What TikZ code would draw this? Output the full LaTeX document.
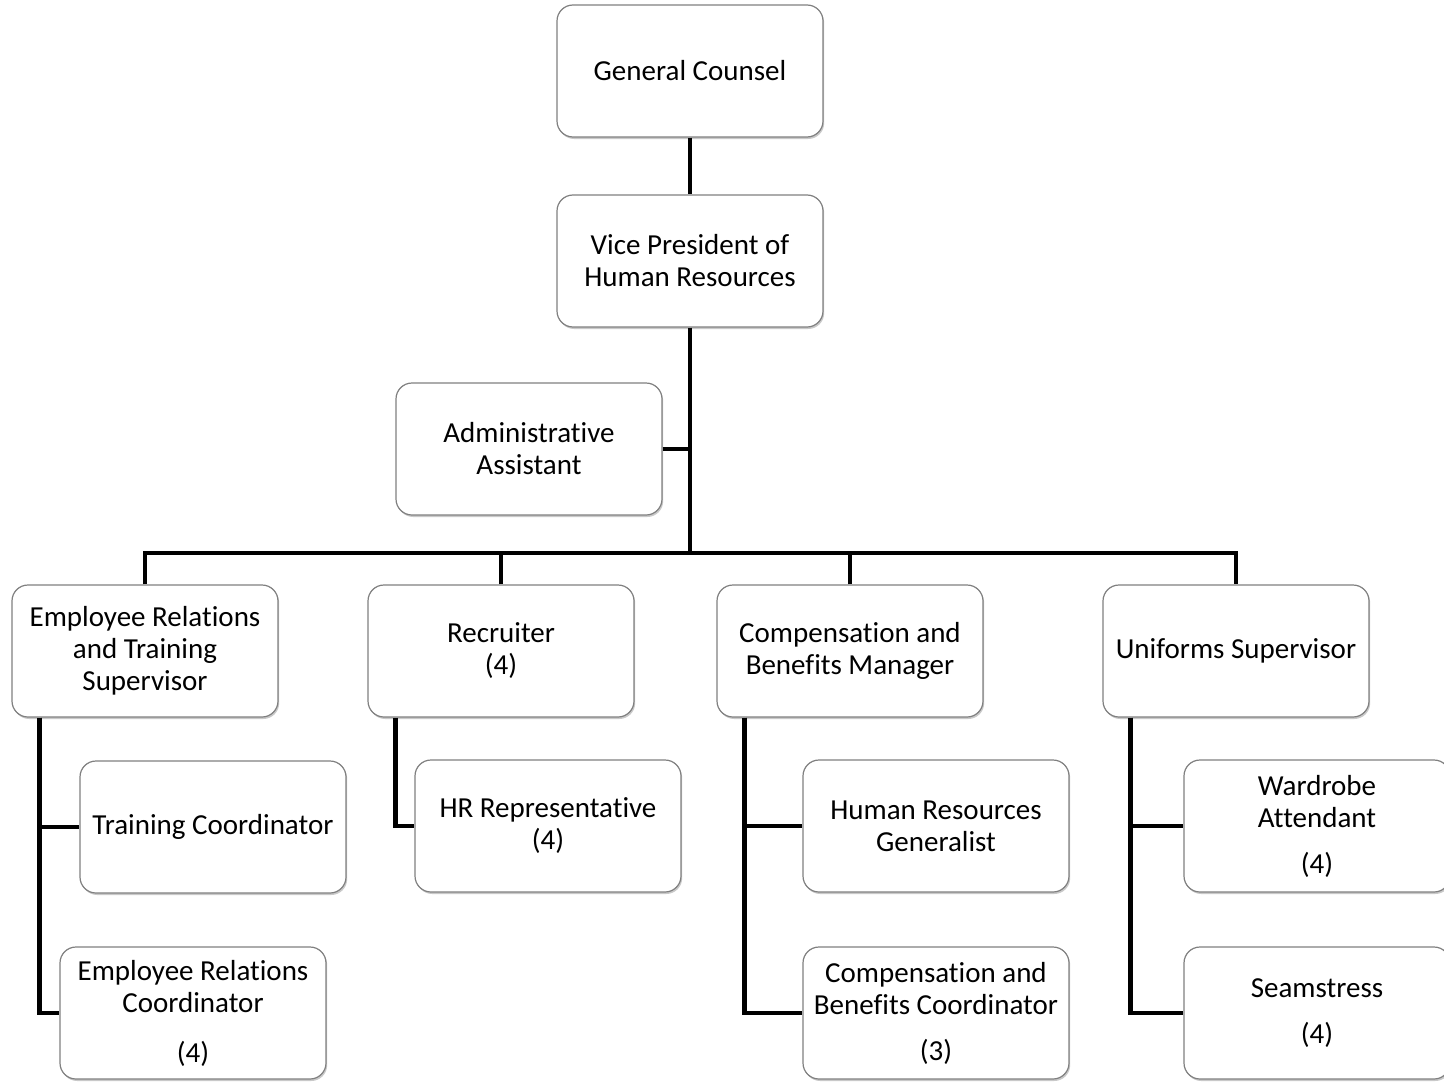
\documentclass[tikz,border=0pt]{standalone}
\usepackage{fontspec}
\setmainfont{Carlito}[Ligatures=NoCommon]
\usetikzlibrary{positioning,shadows}

\tikzset{
  post/.style={draw=black!50, line width=0.6pt, fill=white, rounded corners=8pt,
    minimum width=133pt, minimum height=66pt, align=center, inner sep=2pt,
    font=\fontsize{14.5}{16}\selectfont,
    drop shadow={shadow xshift=0.6pt, shadow yshift=-1pt, opacity=0.35, fill=black!60}},
  link/.style={line width=2.4pt, black}
}

\begin{document}
\begin{tikzpicture}[x=0.5pt, y=-0.5pt]
    \useasboundingbox[fill=white] (0,0) rectangle (1444,1081);
    % top of the chart
    \node[post] (gc) at (690,71) {General Counsel};
    \node[post] (vp) at (690,261) {Vice President of\\Human Resources};
    \node[post] (admin) at (529,449) {Administrative\\Assistant};
    % second level
    \node[post] (ertc) at (145,651) {Employee Relations\\and Training\\Supervisor};
    \node[post] (rec) at (501,651) {Recruiter\\(4)};
    \node[post] (cbm) at (850,651) {Compensation and\\Benefits Manager};
    \node[post] (unif) at (1236,651) {Uniforms Supervisor};
    % third level
    \node[post] (trc) at (213,827) {Training Coordinator};
    \node[post] (erc) at (193,1013) {Employee Relations\\Coordinator\\[9pt](4)};
    \node[post] (hrr) at (548,826) {HR Representative\\(4)};
    \node[post] (hrg) at (936,826) {Human Resources\\Generalist};
    \node[post] (cbc) at (936,1013) {Compensation and\\Benefits Coordinator\\[7pt](3)};
    \node[post] (ward) at (1317,826) {Wardrobe\\Attendant\\[7pt](4)};
    \node[post] (seam) at (1317,1013) {Seamstress\\[7pt](4)};

    \coordinate (bus) at (690,553);
    \coordinate (ertcL) at ([xshift=14pt]ertc.south west);
    \coordinate (recL) at ([xshift=14pt]rec.south west);
    \coordinate (cbmL) at ([xshift=14pt]cbm.south west);
    \coordinate (unifL) at ([xshift=14pt]unif.south west);

    \draw[link] (gc) -- (vp);
    \draw[link] (vp) -- (bus);
    \draw[link] (admin.east) -- (admin.east -| bus);
    \draw[link] (ertc.north) |- (bus) -| (unif.north);
    \draw[link] (rec.north) -- (rec.north |- bus);
    \draw[link] (cbm.north) -- (cbm.north |- bus);
    \draw[link] (ertcL) |- (trc.west);
    \draw[link] (ertcL) |- (erc.west);
    \draw[link] (recL) |- (hrr.west);
    \draw[link] (cbmL) |- (hrg.west);
    \draw[link] (cbmL) |- (cbc.west);
    \draw[link] (unifL) |- (ward.west);
    \draw[link] (unifL) |- (seam.west);
\end{tikzpicture}
\end{document}
